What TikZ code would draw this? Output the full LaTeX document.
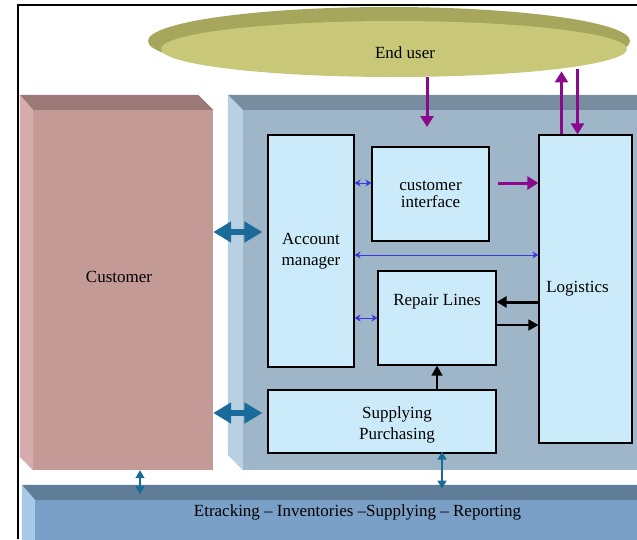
\documentclass[tikz,border=0pt]{standalone}
\usepackage{fontspec}
\setmainfont{Liberation Serif}
\usetikzlibrary{arrows.meta,shapes.geometric,positioning}

\definecolor{custfront}{HTML}{C49A96}
\definecolor{custtop}{HTML}{9C7876}
\definecolor{custside}{HTML}{D8ACAC}
\definecolor{mainfront}{HTML}{9FB5C8}
\definecolor{maintop}{HTML}{788EA0}
\definecolor{mainside}{HTML}{B8D0E2}
\definecolor{barfront}{HTML}{7BA0C8}
\definecolor{bartop}{HTML}{5F7C98}
\definecolor{barside}{HTML}{A8C8E8}
\definecolor{boxfill}{HTML}{CCEBFA}
\definecolor{userface}{HTML}{C8C878}
\definecolor{userrim}{HTML}{A6A65C}
\definecolor{flowpurple}{HTML}{8B0A8B}
\definecolor{linkteal}{HTML}{1A6A9A}
\definecolor{linkblue}{HTML}{3838E0}

\tikzset{
  face/.style={inner sep=0pt, draw=none},
  unit/.style={draw=black, line width=1.2pt, fill=boxfill, align=center, inner sep=0pt},
  userflow/.style={flowpurple, line width=3pt, -{Triangle[width=13pt,length=11pt]}},
  custlink/.style={linkteal, line width=6pt, {Triangle[width=20pt,length=18pt]}-{Triangle[width=20pt,length=18pt]}},
  barlink/.style={linkteal, line width=1.4pt, {Triangle[width=9pt,length=8pt]}-{Triangle[width=9pt,length=8pt]}},
  mgrlink/.style={linkblue, line width=1pt, {Stealth[width=7pt,length=6pt]}-{Stealth[width=7pt,length=6pt]}},
  repflow/.style={black, -{Triangle[width=11pt,length=10pt]}}
}

\begin{document}
\begin{tikzpicture}[x=1pt, y=-1pt, font=\fontsize{17}{21}\selectfont]
    \clip (0,0) rectangle (637,539);
    \fill[white] (0,0) rectangle (637,539);

    % end user disc
    \node[ellipse, face, fill=userrim, minimum width=482, minimum height=68] (rim) at (389,41) {};
    \node[ellipse, face, fill=userface, minimum width=466, minimum height=56,
          label={[xshift=11pt,yshift=-4pt]center:End user}] (user) at (394,49) {};

    % customer block
    \node[face, fill=custfront, minimum width=180, minimum height=360,
          label={[xshift=-4pt,yshift=13pt]center:Customer}] (cust) at (123,290) {};
    \fill[custtop] (cust.north west) -- ++(-13,-15) -- ([xshift=-15pt,yshift=15pt]cust.north east) -- (cust.north east) -- cycle;
    \fill[custside] (cust.north west) -- ++(-13,-15) -- ++(0,362) -- (cust.south west) -- cycle;

    % system block
    \node[face, fill=mainfront, minimum width=417, minimum height=360] (main) at (451.5,290) {};
    \fill[maintop] (main.north west) -- ++(-15,-15) -- ++(440,0) -- (main.north east) -- cycle;
    \fill[mainside] (main.north west) -- ++(-15,-15) -- ++(0,360) -- (main.south west) -- cycle;

    % shared services bar
    \node[face, fill=barfront, minimum width=625, minimum height=60,
          label={[anchor=center,xshift=10pt,yshift=-13pt]north:Etracking -- Inventories --Supplying -- Reporting}] (bar) at (347.5,530) {};
    \fill[bartop] (bar.north west) -- ++(-13,-15) -- ++(640,0) -- (bar.north east) -- cycle;
    \fill[barside] (bar.north west) -- ++(-13,-15) -- ++(0,75) -- (bar.south west) -- cycle;

    \node[unit, minimum width=86, minimum height=232] (acct) at (311,251) {Account\\manager};
    \node[unit, minimum width=117, minimum height=94] (ci) at (430.5,194) {\raisebox{-8pt}{\shortstack{customer\\[2pt]interface}}};
    \node[unit, minimum width=118, minimum height=94,
          label={[anchor=center,yshift=-31pt]north:Repair Lines}] (rep) at (437,318) {};
    \node[unit, minimum width=93, minimum height=308] (log) at (585.5,289) {\hspace*{-16pt}Logistics};
    \node[unit, minimum width=228, minimum height=63,
          label={[align=center,xshift=15pt,yshift=-3pt]center:Supplying\\Purchasing}] (sup) at (382,421.5) {};

    \coordinate (inlet) at (427,127);
    \draw[userflow] (inlet |- user.south) -- (inlet);
    \draw[userflow, line width=2.4pt] ([xshift=-24pt]log.north) -- ++(0,-63);
    \draw[userflow, line width=2.4pt] ([xshift=-8pt,yshift=65pt]log.north) -- ([xshift=-8pt]log.north);
    \draw[userflow] ([xshift=8pt,yshift=11pt]ci.east) -- ([yshift=11pt]ci.east -| log.west);

    \draw[mgrlink] ([yshift=11pt]ci.west -| acct.east) -- ([yshift=11pt]ci.west);
    \draw[mgrlink] ([yshift=-4pt]acct.east) -- ([yshift=-4pt]acct.east -| log.west);
    \draw[mgrlink] (rep.west -| acct.east) -- (rep.west);

    \draw[repflow, line width=3pt] ([yshift=16pt]rep.east -| log.west) -- ([yshift=16pt]rep.east);
    \draw[repflow, line width=1.5pt] ([yshift=-7pt]rep.east) -- ([yshift=-7pt]rep.east -| log.west);
    \draw[repflow, line width=1.5pt] (sup.north -| rep.south) -- (rep.south);

    \draw[custlink, shorten >=5pt] (cust.east |- 0,232) -- (acct.west |- 0,232);
    \draw[custlink, shorten >=5pt] (cust.east |- 0,413) -- (sup.west |- 0,413);
    \draw[barlink] ([xshift=17pt]cust.south) -- ++(0,24);
    \draw[barlink] ([xshift=60pt,yshift=2pt]sup.south) -- ++(0,37);

    % frame
    \draw[line width=2pt] (18,539) |- (637,5);
\end{tikzpicture}
\end{document}
